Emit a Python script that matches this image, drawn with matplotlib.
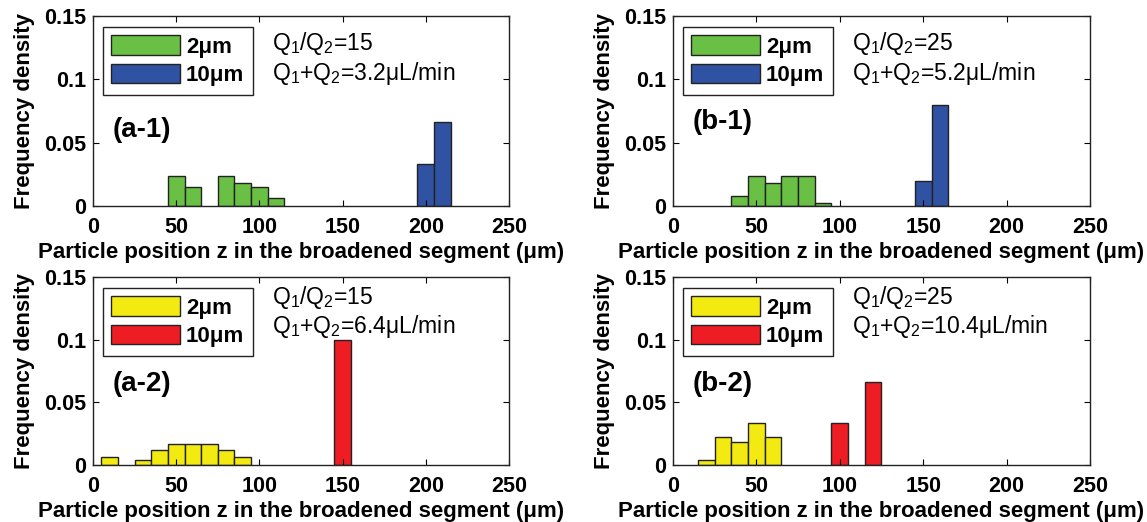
import matplotlib
matplotlib.use("Agg")
import matplotlib.pyplot as plt
from matplotlib.patches import Patch

plt.rcParams['font.family'] = ['Liberation Sans', 'DejaVu Sans']
plt.rcParams['mathtext.fontset'] = 'custom'
plt.rcParams['mathtext.rm'] = 'Liberation Sans'
plt.rcParams['mathtext.it'] = 'Liberation Sans:italic'
plt.rcParams['mathtext.bf'] = 'Liberation Sans:bold'

# ---- data ----
bin_width = 10

a1_small_z = [50, 60, 80, 90, 100, 110]
a1_small_f = [0.0237, 0.0150, 0.0237, 0.0179, 0.0150, 0.0063]
a1_large_z = [200, 210]
a1_large_f = [0.0335, 0.0667]

b1_small_z = [40, 50, 60, 70, 80, 90]
b1_small_f = [0.0079, 0.0237, 0.0184, 0.0237, 0.0237, 0.0027]
b1_large_z = [150, 160]
b1_large_f = [0.0200, 0.0797]

a2_small_z = [10, 30, 40, 50, 60, 70, 80, 90]
a2_small_f = [0.0067, 0.0038, 0.0118, 0.0167, 0.0167, 0.0167, 0.0118, 0.0067]
a2_large_z = [150]
a2_large_f = [0.1000]

b2_small_z = [20, 30, 40, 50, 60]
b2_small_f = [0.0040, 0.0224, 0.0187, 0.0337, 0.0224]
b2_large_z = [100, 120]
b2_large_f = [0.0337, 0.0666]

legend_labels = ['2\u03bcm', '10\u03bcm']
ratio_texts = [r'Q$_1$/Q$_2$=15', r'Q$_1$/Q$_2$=25', r'Q$_1$/Q$_2$=15', r'Q$_1$/Q$_2$=25']
flow_texts = ['Q$_1$+Q$_2$=3.2\u03bcL/min', 'Q$_1$+Q$_2$=5.2\u03bcL/min',
              'Q$_1$+Q$_2$=6.4\u03bcL/min', 'Q$_1$+Q$_2$=10.4\u03bcL/min']
panel_labels = ['(a-1)', '(b-1)', '(a-2)', '(b-2)']
xticks = [0, 50, 100, 150, 200, 250]
yticks = [0, 0.05, 0.1, 0.15]
ytick_labels = ['0', '0.05', '0.1', '0.15']
xlabel = 'Particle position z in the broadened segment (\u03bcm)'
ylabel = 'Frequency density'

green = '#6abf45'
blue = '#2f52a3'
yellow = '#f2ea10'
red = '#ee1d24'
edge = '#222222'

W, H = 1147, 522
fig = plt.figure(figsize=(W / 100, H / 100), dpi=100)

def rect(l, t, r, b):
    return [l / W, 1 - b / H, (r - l) / W, (b - t) / H]

# (axes rect, data..., colours, panel-label y, text baseline offsets in px from top)
panels = [
    (rect(93, 16, 509, 206), a1_small_z, a1_small_f, a1_large_z, a1_large_f, green, blue, 0.40, 34, 64),
    (rect(673, 16, 1090, 206), b1_small_z, b1_small_f, b1_large_z, b1_large_f, green, blue, 0.44, 34, 64),
    (rect(93, 277, 509, 465), a2_small_z, a2_small_f, a2_large_z, a2_large_f, yellow, red, 0.43, 27, 56),
    (rect(673, 277, 1090, 465), b2_small_z, b2_small_f, b2_large_z, b2_large_f, yellow, red, 0.43, 27, 56),
]

for i, (pos, sz, sf, lz, lf, c1, c2, ly, t1, t2) in enumerate(panels):
    ax = fig.add_axes(pos)
    hpx = pos[3] * H
    ax.bar(sz, sf, width=bin_width, color=c1, edgecolor=edge, linewidth=1.0)
    ax.bar(lz, lf, width=bin_width, color=c2, edgecolor=edge, linewidth=1.0)
    ax.set_xlim(0, 250)
    ax.set_ylim(0, 0.15)
    ax.set_xticks(xticks)
    ax.set_xticklabels([str(x) for x in xticks], fontweight='bold', fontsize=15.5)
    ax.set_yticks(yticks)
    ax.set_yticklabels(ytick_labels, fontweight='bold', fontsize=15.5)
    ax.tick_params(direction='in', length=4, width=0.8, top=True, right=True)
    ax.tick_params(axis='x', pad=8)
    ax.tick_params(axis='y', pad=5)
    for s in ax.spines.values():
        s.set_linewidth(1.0)
        s.set_color('#222222')
    ax.set_xlabel(xlabel, fontweight='bold', fontsize=16)
    ax.xaxis.set_label_coords(0.5, -36 / hpx)
    ax.set_ylabel(ylabel, fontweight='bold', fontsize=16)
    ax.yaxis.set_label_coords(-0.14, 0.5)
    handles = [Patch(facecolor=c1, edgecolor=edge, linewidth=1.0),
               Patch(facecolor=c2, edgecolor=edge, linewidth=1.0)]
    leg = ax.legend(handles, legend_labels, loc='upper left',
                    bbox_to_anchor=(0.024, 1 - 11 / hpx), prop={'weight': 'bold', 'size': 16},
                    handlelength=3.1, handleheight=1.0, handletextpad=0.25,
                    labelspacing=0.25, borderpad=0.38, borderaxespad=0,
                    fancybox=False, framealpha=1, edgecolor='#222222')
    leg.get_frame().set_linewidth(1.0)
    ax.text(0.43, 1 - t1 / hpx, ratio_texts[i], transform=ax.transAxes, fontsize=16.5,
            va='baseline', ha='left')
    ax.text(0.43, 1 - t2 / hpx, flow_texts[i], transform=ax.transAxes, fontsize=16.5,
            va='baseline', ha='left')
    ax.text(0.048, ly, panel_labels[i], transform=ax.transAxes, fontsize=20,
            fontweight='bold', va='center', ha='left')

fig.savefig('out.png', dpi=100)
